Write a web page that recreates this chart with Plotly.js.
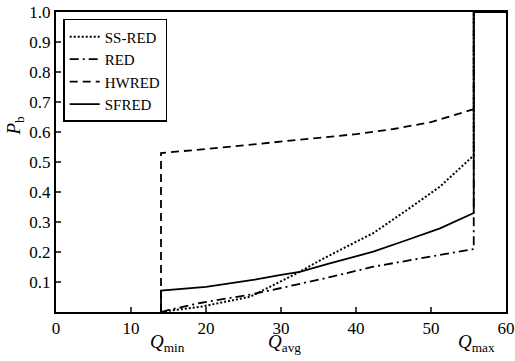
<!DOCTYPE html>
<html>
<head>
<meta charset="utf-8">
<script src="https://cdn.plot.ly/plotly-3.0.1.min.js"></script>
<style>html,body{margin:0;padding:0;background:#fff;}#chart{width:515px;height:361px;}</style>
</head>
<body>
<div id="chart"></div>
<script>
// SS-RED (dotted)
const ssredX = [14, 14.7, 19.2, 25.9, 32.5, 35.2, 37.9, 42.3, 46.8, 51.2, 55.7, 55.7, 60];
const ssredY = [0, 0.003, 0.017, 0.051, 0.134, 0.172, 0.207, 0.263, 0.34, 0.418, 0.522, 1.0, 1.0];
// RED (dash-dot)
const redX = [14, 14.7, 19.2, 25.9, 30, 36.5, 42.3, 46.8, 51.2, 55.7, 55.7, 60];
const redY = [0, 0.005, 0.03, 0.058, 0.08, 0.116, 0.151, 0.17, 0.19, 0.21, 1.0, 1.0];
// HWRED (dashed)
const hwredX = [14, 14, 20, 26.5, 30, 35, 40, 45, 50, 55.7, 55.7, 60];
const hwredY = [0, 0.53, 0.543, 0.56, 0.568, 0.58, 0.593, 0.61, 0.633, 0.676, 1.0, 1.0];
// SFRED (solid)
const sfredX = [14, 14, 20, 26.5, 30, 32.5, 36.5, 40, 42.3, 46.8, 51.2, 55.7, 55.7, 60];
const sfredY = [0, 0.071, 0.084, 0.108, 0.124, 0.134, 0.162, 0.185, 0.201, 0.24, 0.279, 0.33, 1.0, 1.0];

const seriesNames = ["SS-RED", "RED", "HWRED", "SFRED"];
const xTickVals = [0, 10, 20, 30, 40, 50, 60];
const yTickVals = [0.1, 0.2, 0.3, 0.4, 0.5, 0.6, 0.7, 0.8, 0.9, 1.0];
const qLabels = ["<i>Q</i><sub>min</sub>", "<i>Q</i><sub>avg</sub>", "<i>Q</i><sub>max</sub>"];
const qPos = [14.8, 30.5, 56];

const font = "Liberation Serif";
const mk = (x, y, name, dash, w) => ({
  x: x, y: y, name: name, type: "scatter", mode: "lines",
  line: {color: "#000", width: w, dash: dash}
});

const data = [
  mk(ssredX, ssredY, seriesNames[0], "2px,2px", 2),
  mk(redX, redY, seriesNames[1], "9px,4px,2px,4px", 1.8),
  mk(hwredX, hwredY, seriesNames[2], "8px,5px", 1.8),
  mk(sfredX, sfredY, seriesNames[3], "solid", 1.8)
];

const annotations = qLabels.map((t, i) => ({
  x: qPos[i], xref: "x", y: 0, yref: "paper", yshift: -31,
  xanchor: "center", yanchor: "middle",
  text: t, showarrow: false, font: {family: font, size: 19, color: "#000"}
}));
annotations.push({
  x: -0.092, xref: "paper", y: 0.62, yref: "paper", textangle: -90,
  xanchor: "center", yanchor: "middle",
  text: "<i>P</i><sub>b</sub>", showarrow: false,
  font: {family: font, size: 19, color: "#000"}
});

const layout = {
  width: 515, height: 361,
  margin: {l: 56, r: 9, t: 12, b: 49},
  paper_bgcolor: "#fff", plot_bgcolor: "#fff",
  font: {family: font, size: 17, color: "#000"},
  showlegend: true,
  legend: {
    x: 0.016, y: 0.977, xanchor: "left", yanchor: "top",
    bgcolor: "#fff", bordercolor: "#000", borderwidth: 1.5,
    font: {family: font, size: 15, color: "#000"},
    tracegroupgap: 0, itemwidth: 30
  },
  xaxis: {
    range: [0, 60], tickvals: xTickVals, ticks: "inside", ticklen: 5, tickwidth: 1.5,
    showline: true, linecolor: "#000", linewidth: 2, mirror: true,
    showgrid: false, zeroline: false, tickfont: {family: font, size: 17, color: "#000"}
  },
  yaxis: {
    range: [0, 1], tickvals: yTickVals, tickformat: ".1f", ticks: "inside", ticklen: 5, tickwidth: 1.5,
    showline: true, linecolor: "#000", linewidth: 2, mirror: true,
    showgrid: false, zeroline: false, tickfont: {family: font, size: 17, color: "#000"}
  },
  annotations: annotations
};

Plotly.newPlot("chart", data, layout, {staticPlot: true, displayModeBar: false});
</script>
</body>
</html>
